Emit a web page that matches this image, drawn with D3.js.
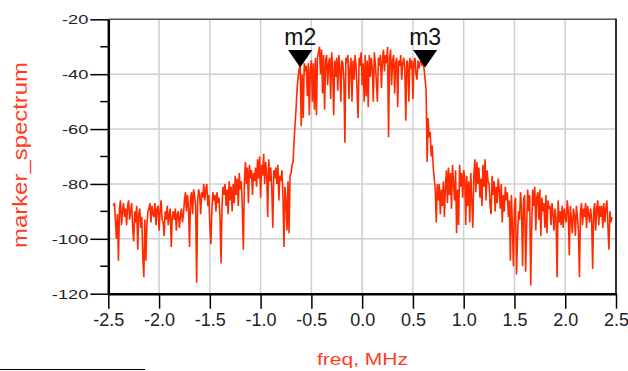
<!DOCTYPE html>
<html>
<head>
<meta charset="utf-8">
<script src="https://cdn.jsdelivr.net/npm/d3@7"></script>
<style>
  html, body { margin: 0; padding: 0; background: #fff; }
  svg { display: block; }
  text { font-family: "Liberation Sans", Arial, sans-serif; }
</style>
</head>
<body>
<svg id="chart" width="628" height="371"></svg>
<script>
// ---------- data ----------
const freq = [
-2.45,-2.44,-2.43,-2.42,-2.41,-2.40,-2.39,-2.38,-2.37,-2.36,
-2.35,-2.34,-2.33,-2.32,-2.31,-2.30,-2.29,-2.28,-2.27,-2.26,
-2.25,-2.24,-2.23,-2.22,-2.21,-2.20,-2.19,-2.18,-2.17,-2.16,
-2.15,-2.14,-2.13,-2.12,-2.11,-2.10,-2.09,-2.08,-2.07,-2.06,
-2.05,-2.04,-2.03,-2.02,-2.01,-2.00,-1.99,-1.98,-1.97,-1.96,
-1.95,-1.94,-1.93,-1.92,-1.91,-1.90,-1.89,-1.88,-1.87,-1.86,
-1.85,-1.84,-1.83,-1.82,-1.81,-1.80,-1.79,-1.78,-1.77,-1.76,
-1.75,-1.74,-1.73,-1.72,-1.71,-1.70,-1.69,-1.68,-1.67,-1.66,
-1.65,-1.64,-1.63,-1.62,-1.61,-1.60,-1.59,-1.58,-1.57,-1.56,
-1.55,-1.54,-1.53,-1.52,-1.51,-1.50,-1.49,-1.48,-1.47,-1.46,
-1.45,-1.44,-1.43,-1.42,-1.41,-1.40,-1.39,-1.38,-1.37,-1.36,
-1.35,-1.34,-1.33,-1.32,-1.31,-1.30,-1.29,-1.28,-1.27,-1.26,
-1.25,-1.24,-1.23,-1.22,-1.21,-1.20,-1.19,-1.18,-1.17,-1.16,
-1.15,-1.14,-1.13,-1.12,-1.11,-1.10,-1.09,-1.08,-1.07,-1.06,
-1.05,-1.04,-1.03,-1.02,-1.01,-1.00,-0.99,-0.98,-0.97,-0.96,
-0.95,-0.94,-0.93,-0.92,-0.91,-0.90,-0.89,-0.88,-0.87,-0.86,
-0.85,-0.84,-0.83,-0.82,-0.81,-0.80,-0.79,-0.78,-0.77,-0.76,
-0.75,-0.74,-0.73,-0.72,-0.71,-0.70,-0.69,-0.68,-0.67,-0.66,
-0.65,-0.64,-0.63,-0.62,-0.61,-0.60,-0.59,-0.58,-0.57,-0.56,
-0.55,-0.54,-0.53,-0.52,-0.51,-0.50,-0.49,-0.48,-0.47,-0.46,
-0.45,-0.44,-0.43,-0.42,-0.41,-0.40,-0.39,-0.38,-0.37,-0.36,
-0.35,-0.34,-0.33,-0.32,-0.31,-0.30,-0.29,-0.28,-0.27,-0.26,
-0.25,-0.24,-0.23,-0.22,-0.21,-0.20,-0.19,-0.18,-0.17,-0.16,
-0.15,-0.14,-0.13,-0.12,-0.11,-0.10,-0.09,-0.08,-0.07,-0.06,
-0.05,-0.04,-0.03,-0.02,-0.01,0.00,0.01,0.02,0.03,0.04,
0.05,0.06,0.07,0.08,0.09,0.10,0.11,0.12,0.13,0.14,
0.15,0.16,0.17,0.18,0.19,0.20,0.21,0.22,0.23,0.24,
0.25,0.26,0.27,0.28,0.29,0.30,0.31,0.32,0.33,0.34,
0.35,0.36,0.37,0.38,0.39,0.40,0.41,0.42,0.43,0.44,
0.45,0.46,0.47,0.48,0.49,0.50,0.51,0.52,0.53,0.54,
0.55,0.56,0.57,0.58,0.59,0.60,0.61,0.62,0.63,0.64,
0.65,0.66,0.67,0.68,0.69,0.70,0.71,0.72,0.73,0.74,
0.75,0.76,0.77,0.78,0.79,0.80,0.81,0.82,0.83,0.84,
0.85,0.86,0.87,0.88,0.89,0.90,0.91,0.92,0.93,0.94,
0.95,0.96,0.97,0.98,0.99,1.00,1.01,1.02,1.03,1.04,
1.05,1.06,1.07,1.08,1.09,1.10,1.11,1.12,1.13,1.14,
1.15,1.16,1.17,1.18,1.19,1.20,1.21,1.22,1.23,1.24,
1.25,1.26,1.27,1.28,1.29,1.30,1.31,1.32,1.33,1.34,
1.35,1.36,1.37,1.38,1.39,1.40,1.41,1.42,1.43,1.44,
1.45,1.46,1.47,1.48,1.49,1.50,1.51,1.52,1.53,1.54,
1.55,1.56,1.57,1.58,1.59,1.60,1.61,1.62,1.63,1.64,
1.65,1.66,1.67,1.68,1.69,1.70,1.71,1.72,1.73,1.74,
1.75,1.76,1.77,1.78,1.79,1.80,1.81,1.82,1.83,1.84,
1.85,1.86,1.87,1.88,1.89,1.90,1.91,1.92,1.93,1.94,
1.95,1.96,1.97,1.98,1.99,2.00,2.01,2.02,2.03,2.04,
2.05,2.06,2.07,2.08,2.09,2.10,2.11,2.12,2.13,2.14,
2.15,2.16,2.17,2.18,2.19,2.20,2.21,2.22,2.23,2.24,
2.25,2.26,2.27,2.28,2.29,2.30,2.31,2.32,2.33,2.34,
2.35,2.36,2.37,2.38,2.39,2.40,2.41,2.42,2.43,2.44,
2.45,2.46
];

const markerSpectrum = [
-88,-87,-93,-100,-91,-108,-89,-86,-95,-90,
-87,-92,-89,-95,-88,-86,-93,-90,-87,-96,
-101,-90,-94,-88,-104,-91,-89,-96,-92,-107,
-114,-93,-108,-95,-90,-89,-87,-94,-88,-91,
-92,-87,-95,-89,-88,-97,-90,-86,-93,-94,
-99,-90,-93,-88,-95,-91,-89,-103,-92,-90,
-93,-89,-97,-91,-90,-96,-92,-89,-94,-91,
-86,-83,-90,-84,-89,-103,-85,-83,-91,-82,
-84,-88,-116,-86,-82,-84,-91,-83,-85,-80,
-86,-82,-80,-88,-84,-95,-102,-90,-83,-86,
-84,-90,-83,-87,-85,-92,-109,-88,-81,-84,
-80,-88,-82,-91,-79,-86,-81,-90,-80,-87,
-77,-84,-78,-88,-76,-82,-79,-89,-104,-80,
-72,-80,-74,-87,-73,-78,-75,-84,-76,-79,
-74,-81,-71,-78,-70,-85,-73,-77,-69,-80,
-72,-76,-92,-71,-79,-74,-82,-96,-75,-78,
-74,-80,-73,-86,-77,-79,-75,-84,-103,-81,
-86,-97,-79,-98,-77,-76,-73,-72,-64,-58,
-52,-45,-41,-38,-37,-59,-40,-56,-36,-39,
-37,-48,-36,-55,-38,-35,-50,-36,-53,-34,
-55,-34,-32,-30,-40,-31,-47,-33,-53,-35,
-33,-44,-36,-34,-49,-32,-38,-55,-35,-41,
-34,-46,-33,-37,-50,-35,-36,-42,-65,-34,
-36,-33,-49,-38,-34,-50,-35,-42,-33,-37,
-46,-56,-34,-37,-32,-44,-36,-50,-33,-48,
-35,-52,-33,-41,-34,-38,-50,-32,-36,-43,
-50,-34,-37,-33,-45,-35,-31,-39,-33,-36,
-30,-63,-34,-31,-44,-35,-33,-47,-36,-34,
-52,-35,-37,-33,-42,-36,-34,-38,-57,-35,
-36,-50,-34,-38,-35,-49,-36,-34,-40,-42,
-35,-38,-36,-34,-37,-36,-38,-42,-46,-72,
-56,-63,-61,-70,-66,-74,-78,-82,-94,-80,
-86,-80,-91,-82,-88,-79,-92,-81,-75,-87,
-74,-84,-76,-89,-73,-80,-86,-75,-98,-82,
-95,-73,-81,-76,-85,-75,-78,-95,-77,-88,
-79,-94,-76,-86,-96,-77,-71,-83,-72,-80,
-74,-85,-78,-88,-73,-81,-71,-86,-75,-79,
-80,-88,-91,-77,-84,-79,-90,-81,-87,-78,
-82,-89,-80,-94,-84,-90,-81,-86,-83,-92,
-86,-108,-84,-96,-110,-88,-85,-113,-100,-90,
-93,-83,-89,-110,-86,-84,-112,-95,-82,-90,
-84,-117,-96,-82,-88,-81,-97,-85,-83,-93,
-82,-99,-85,-90,-87,-96,-84,-98,-86,-89,
-88,-95,-87,-91,-97,-89,-93,-114,-86,-94,
-90,-95,-88,-96,-89,-92,-94,-86,-90,-106,
-88,-93,-98,-89,-91,-99,-88,-92,-97,-114,
-90,-87,-95,-89,-92,-87,-96,-88,-91,-94,
-89,-93,-111,-90,-87,-97,-89,-86,-95,-88,
-92,-88,-96,-87,-94,-89,-86,-95,-104,-90,
-94,-92
];

const markerNames = ["m2", "m3"];
const markerFreq  = [-0.61, 0.62];
const markerValue = [-37.6, -37.6];

const xTicks      = [-2.5, -2.0, -1.5, -1.0, -0.5, 0.0, 0.5, 1.0, 1.5, 2.0, 2.5];
const xTickLabels = ["-2.5", "-2.0", "-1.5", "-1.0", "-0.5", "0.0", "0.5", "1.0", "1.5", "2.0", "2.5"];
const yTicks      = [-120, -100, -80, -60, -40, -20];
const yTickLabels = ["-120", "-100", "-80", "-60", "-40", "-20"];
const yMinorTicks = [-110, -90, -70, -50, -30];

// ---------- layout ----------
const svg = d3.select("#chart");
const pL = 108.3, pR = 616, pT = 19.3, pB = 293.7;
const RED = "#ff2a00";
const TXT_RED = "#ff3d1f";

const x = d3.scaleLinear().domain([-2.5, 2.5]).range([pL, pR]);
const y = d3.scaleLinear().domain([-120, -20]).range([pB, pT]);

// grid
const grid = svg.append("g");
grid.selectAll("line.v").data(xTicks.slice(1, -1)).join("line")
  .attr("x1", d => x(d)).attr("x2", d => x(d))
  .attr("y1", pT).attr("y2", pB)
  .attr("stroke", "#cfcfcf").attr("stroke-width", 1.5);
grid.selectAll("line.h").data(yTicks.slice(1, -1)).join("line")
  .attr("x1", pL).attr("x2", pR)
  .attr("y1", d => y(d)).attr("y2", d => y(d))
  .attr("stroke", "#cfcfcf").attr("stroke-width", 1.5);

// trace
svg.append("clipPath").attr("id", "plotclip")
  .append("rect").attr("x", pL).attr("y", pT)
  .attr("width", pR - pL).attr("height", pB - pT);

const pts = freq.map((f, i) => [f, markerSpectrum[i]]);
svg.append("path")
  .attr("clip-path", "url(#plotclip)")
  .attr("d", d3.line().x(d => x(d[0])).y(d => y(d[1]))(pts))
  .attr("fill", "none")
  .attr("stroke", RED)
  .attr("stroke-width", 1.6)
  .attr("stroke-linejoin", "miter");

// frame top and right
svg.append("line").attr("x1", pL).attr("x2", pR).attr("y1", pT).attr("y2", pT)
  .attr("stroke", "#555").attr("stroke-width", 1.5);
svg.append("line").attr("x1", pR).attr("x2", pR).attr("y1", pT - 0.7).attr("y2", pB)
  .attr("stroke", "#333").attr("stroke-width", 2);

// y axis
const yAxis = svg.append("g").attr("transform", `translate(${pL},0)`)
  .call(d3.axisLeft(y).tickValues(yTicks).tickSize(18).tickSizeOuter(0)
    .tickPadding(2).tickFormat((d, i) => yTickLabels[i]));
yAxis.select(".domain").attr("stroke", "#000").attr("stroke-width", 2.5);
yAxis.selectAll(".tick line").attr("stroke", "#000").attr("stroke-width", 1.5);
yAxis.selectAll(".tick text")
  .attr("font-size", 13.5)
  .attr("fill", "#222")
  .attr("x", -20 / 1.35)
  .attr("dy", "0.34em")
  .attr("transform", "scale(1.35,1)")
  .style("font-family", "'Liberation Sans', Arial, sans-serif");

// minor y ticks
svg.append("g").selectAll("line").data(yMinorTicks).join("line")
  .attr("x1", pL - 8).attr("x2", pL)
  .attr("y1", d => y(d)).attr("y2", d => y(d))
  .attr("stroke", "#000").attr("stroke-width", 1.5);

// x axis
const xAxis = svg.append("g").attr("transform", `translate(0,${pB})`)
  .call(d3.axisBottom(x).tickValues(xTicks).tickSize(15).tickSizeOuter(0)
    .tickPadding(5).tickFormat((d, i) => xTickLabels[i]));
xAxis.select(".domain").attr("stroke", "#000").attr("stroke-width", 2.5);
xAxis.selectAll(".tick line").attr("stroke", "#000").attr("stroke-width", 1.5);
xAxis.selectAll(".tick text")
  .attr("font-size", 18)
  .attr("fill", "#222")
  .style("font-family", "'Liberation Sans', Arial, sans-serif");

// markers
const mk = svg.append("g");
markerNames.forEach((name, i) => {
  const mx = x(markerFreq[i]), my = y(markerValue[i]);
  mk.append("path")
    .attr("d", `M${mx},${my} L${mx - 12},${my - 17.5} L${mx + 12},${my - 17.5} Z`)
    .attr("fill", "#000");
  mk.append("text")
    .attr("x", mx).attr("y", my - 22.5)
    .attr("text-anchor", "middle")
    .attr("font-size", 23)
    .attr("fill", "#111")
    .text(name);
});

// axis titles
svg.append("text")
  .attr("transform", "translate(27,155) rotate(-90)")
  .attr("text-anchor", "middle")
  .attr("font-size", 20)
  .attr("fill", TXT_RED)
  .attr("textLength", 186)
  .attr("lengthAdjust", "spacingAndGlyphs")
  .text("marker_spectrum");

svg.append("text")
  .attr("x", 362.5).attr("y", 364.5)
  .attr("text-anchor", "middle")
  .attr("font-size", 17)
  .attr("fill", TXT_RED)
  .attr("textLength", 91)
  .attr("lengthAdjust", "spacingAndGlyphs")
  .text("freq, MHz");

// stray rule at bottom-left
svg.append("line").attr("x1", 0).attr("x2", 145).attr("y1", 369.5).attr("y2", 369.5)
  .attr("stroke", "#000").attr("stroke-width", 1);
</script>
</body>
</html>
